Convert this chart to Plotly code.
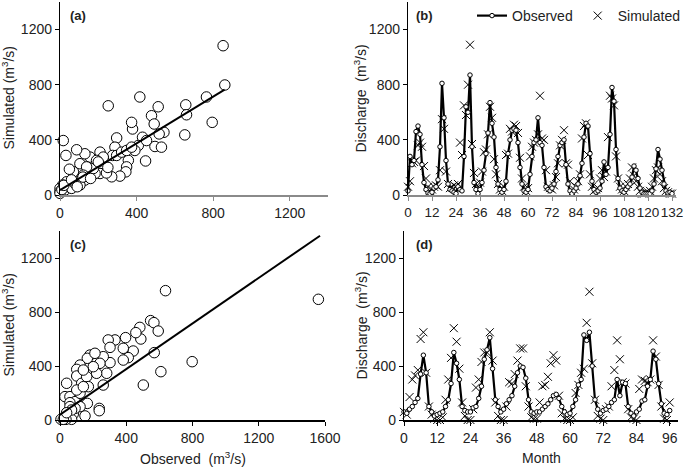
import plotly.graph_objects as go

# ---------------- data ----------------
# (b) calibration period, monthly discharge (m3/s)
months_b = list(range(0, 133))
obs_b = [
    30, 280, 220, 250, 460, 500, 440, 220, 90, 40, 15, 10,
    20, 50, 60, 110, 350, 810, 560, 250, 80, 40, 30, 20,
    10, 60, 40, 30, 280, 640, 600, 870, 350, 90, 40, 10,
    40, 90, 180, 300, 450, 670, 520, 420, 200, 80, 40, 20,
    40, 100, 300, 400, 470, 480, 470, 380, 200, 80, 30, 20,
    40, 150, 280, 380, 400, 560, 380, 360, 200, 60, 40, 30,
    50, 80, 170, 280, 360, 380, 400, 220, 80, 30, 10, 30,
    50, 80, 140, 230, 420, 520, 500, 300, 100, 40, 20, 30,
    50, 100, 240, 150, 200, 440, 780, 680, 330, 120, 50, 30,
    20, 40, 60, 80, 130, 210, 180, 120, 50, 20, 10, 10,
    10, 10, 30, 80, 190, 330, 260, 180, 80, 30, 15, 20, 10,
]
sim_b = [
    60, 100, 230, 240, 250, 360, 380, 350, 210, 120, 60, 30,
    40, 60, 70, 60, 180, 550, 480, 170, 80, 50, 60, 70,
    60, 80, 380, 290, 650, 580, 800, 1090, 370, 160, 80, 60,
    90, 170, 310, 330, 440, 640, 560, 260, 150, 80, 40, 30,
    60, 290, 300, 480, 460, 510, 500, 450, 270, 120, 60, 30,
    50, 280, 350, 380, 400, 440, 720, 410, 400, 180, 60, 50,
    40, 70, 130, 230, 360, 400, 470, 230, 220, 100, 20, 40,
    60, 100, 150, 410, 500, 520, 290, 150, 60, 30, 40, 50,
    120, 180, 130, 170, 420, 720, 700, 650, 280, 120, 60, 40,
    30, 60, 80, 120, 200, 140, 100, 60, 30, 10, 10, 20,
    20, 30, 60, 120, 180, 200, 150, 100, 50, 30, 20, 10, 10,
]

# (d) validation period
months_d = list(range(0, 97))
obs_d = [
    60, 50, 80, 100, 130, 160, 340, 480, 350, 100, 60, 30, 40,
    50, 60, 100, 150, 270, 500, 420, 300, 100, 70, 60, 60,
    90, 100, 160, 250, 450, 520, 610, 380, 150, 100, 60, 80,
    120, 150, 180, 250, 350, 400, 390, 310, 150, 60, 50, 60,
    60, 80, 100, 120, 150, 180, 190, 160, 100, 60, 40, 50,
    100, 150, 260, 300, 630, 590, 650, 400, 150, 80, 50, 70,
    80, 100, 130, 150, 300, 180, 280, 270, 100, 50, 30, 60,
    80, 140, 150, 250, 300, 510, 450, 270, 120, 50, 40, 70,
]
sim_d = [
    60, 40, 170, 300, 330, 370, 600, 650, 350, 100, 40, 10, 0,
    0, 20, 150, 300, 460, 680, 580, 380, 130, 30, 0, 0,
    80, 240, 300, 430, 500, 500, 650, 440, 130, 30, 0, 0,
    100, 280, 270, 340, 440, 530, 530, 250, 100, 20, 10, 10,
    130, 250, 260, 320, 420, 480, 440, 180, 50, 10, 0, 0,
    20, 200, 260, 350, 380, 720, 950, 420, 150, 30, 10, 0,
    80, 100, 250, 370, 590, 450, 280, 270, 80, 20, 10, 0,
    230, 300, 290, 280, 300, 590, 470, 260, 100, 10, 0, 130,
]

# (a) scatter, calibration
obs_a = [852, 861, 765, 657, 661, 652, 795, 513, 417, 252, 478, 492, 543, 518,
         496, 447, 431, 409, 379, 374, 296, 287, 275, 357, 348, 344, 313, 270,
         209, 217, 209, 183, 243, 157, 130, 87, 31, 17, 104, 148, 70, 49, 130,
         96, 35, 14, 0, 0, 26, 43, 61, 78, 104, 174, 296, 322, 391, 452, 530,
         348, 374, 226, 191, 139, 122, 0, 10, 20, 60, 90, 120, 160, 200, 250]
sim_a = [1083, 798, 711, 654, 582, 436, 527, 640, 711, 647, 575, 515, 455, 443,
         352, 247, 419, 359, 479, 527, 414, 347, 287, 251, 204, 168, 137, 132,
         311, 227, 156, 156, 160, 275, 299, 328, 287, 395, 227, 180, 168, 187,
         108, 96, 96, 72, 48, 24, 36, 60, 48, 84, 72, 192, 287, 311, 323, 395,
         347, 323, 347, 275, 251, 204, 144, 12, 40, 70, 110, 60, 130, 120, 240, 200]

# (c) scatter, validation
obs_c = [1560, 637, 798, 609, 503, 569, 547, 567, 593, 482, 488, 458, 442, 412,
         396, 382, 382, 332, 291, 302, 302, 282, 261, 261, 241, 221, 181, 165,
         121, 101, 101, 131, 161, 171, 40, 30, 60, 91, 60, 165, 121, 237, 237,
         151, 80, 70, 36, 6, 20, 121, 91, 60, 201, 211, 141, 70, 40, 101, 141]
sim_c = [894, 958, 432, 358, 259, 499, 736, 721, 659, 686, 600, 647, 511, 462,
         610, 531, 444, 593, 593, 538, 425, 346, 469, 259, 420, 346, 481, 457,
         407, 375, 326, 272, 321, 247, 272, 173, 173, 136, 128, 123, 198, 86,
         69, 30, 44, 5, 5, 5, 5, 99, 86, 99, 395, 494, 370, 74, 54, 222, 247]

# fitted lines (end points)
fit_a_x = [0, 860]
fit_a_y = [35, 765]
fit_c_x = [0, 1570]
fit_c_y = [40, 1365]

y_ticks = [0, 400, 800, 1200]
x_ticks_a = [0, 400, 800, 1200]
x_ticks_c = [0, 400, 800, 1200, 1600]
x_ticks_b = list(range(0, 133, 12))
x_ticks_d = list(range(0, 97, 12))

# ---------------- figure ----------------
FONT = "Liberation Sans, Arial, sans-serif"
W, H = 685, 468

fig = go.Figure()

circ = dict(symbol="circle", size=10.5, color="white", line=dict(color="black", width=1))
fig.add_trace(go.Scatter(x=obs_a, y=sim_a, mode="markers", marker=circ, xaxis="x", yaxis="y",
                         showlegend=False, cliponaxis=False))
fig.add_trace(go.Scatter(x=fit_a_x, y=fit_a_y, mode="lines", line=dict(color="black", width=2),
                         xaxis="x", yaxis="y", showlegend=False))
fig.add_trace(go.Scatter(x=obs_c, y=sim_c, mode="markers", marker=circ, xaxis="x3", yaxis="y3",
                         showlegend=False, cliponaxis=False))
fig.add_trace(go.Scatter(x=fit_c_x, y=fit_c_y, mode="lines", line=dict(color="black", width=2),
                         xaxis="x3", yaxis="y3", showlegend=False))

obs_style = dict(mode="lines+markers", line=dict(color="black", width=2.2),
                 marker=dict(symbol="circle", size=4.5, color="white", line=dict(color="black", width=1)))
sim_style = dict(mode="markers",
                 marker=dict(symbol="x-thin-open", size=8, color="black", line=dict(color="black", width=1)))

fig.add_trace(go.Scatter(x=months_b, y=sim_b, name="Simulated", xaxis="x2", yaxis="y2",
                         cliponaxis=False, legendrank=2, **sim_style))
fig.add_trace(go.Scatter(x=months_b, y=obs_b, name="Observed", xaxis="x2", yaxis="y2",
                         cliponaxis=False, legendrank=1, **obs_style))
fig.add_trace(go.Scatter(x=months_d, y=sim_d, name="Simulated", xaxis="x4", yaxis="y4",
                         cliponaxis=False, showlegend=False, **sim_style))
fig.add_trace(go.Scatter(x=months_d, y=obs_d, name="Observed", xaxis="x4", yaxis="y4",
                         cliponaxis=False, showlegend=False, **obs_style))


def px_x(a, b):
    return [a / W, b / W]


def px_y(top, bottom):
    return [1 - bottom / H, 1 - top / H]


tick_font = dict(family=FONT, size=14, color="#222")
title_font = dict(family=FONT, size=14, color="#222")


def xax(domain, rng, anchor, tickvals, linecolor, fsize=14):
    return dict(domain=domain, range=rng, anchor=anchor, tickvals=tickvals,
                showline=True, linecolor=linecolor, linewidth=1.6, ticks="outside",
                ticklen=4, tickcolor=linecolor, showgrid=False, zeroline=False,
                tickangle=0, automargin=False,
                tickfont=dict(family=FONT, size=fsize, color="#222"))


def yax(domain, anchor):
    return dict(domain=domain, range=[0, 1400], anchor=anchor, tickvals=y_ticks,
                showline=True, linecolor="black", linewidth=1.4, ticks="outside",
                ticklen=4, tickcolor="black", showgrid=False, zeroline=False,
                automargin=False, tickfont=tick_font)


fig.update_layout(
    width=W, height=H, margin=dict(l=0, r=0, t=0, b=0, autoexpand=False),
    plot_bgcolor="white", paper_bgcolor="white",
    font=dict(family=FONT, size=14, color="#222"),
    xaxis=xax(px_x(60, 328), [0, 1400], "y", x_ticks_a, "#8a8a8a"),
    yaxis=yax(px_y(2, 195), "x"),
    xaxis2=xax(px_x(408, 676), [0, 134], "y2", x_ticks_b, "#8a8a8a", 13.5),
    yaxis2=yax(px_y(2, 195), "x2"),
    xaxis3=xax(px_x(60, 325), [0, 1600], "y3", x_ticks_c, "black"),
    yaxis3=yax(px_y(231, 420), "x3"),
    xaxis4=xax(px_x(404, 678), [0, 99], "y4", x_ticks_d, "black"),
    yaxis4=yax(px_y(231, 420), "x4"),
    legend=dict(orientation="h", x=1.0, xanchor="right", y=1.0, yanchor="top",
                bgcolor="rgba(0,0,0,0)", font=dict(family=FONT, size=14, color="#222"),
                itemwidth=30, tracegroupgap=0),
)

labels = [("(a)", "x domain", "y domain", 0.03, 0.93),
          ("(b)", "x2 domain", "y2 domain", 0.022, 0.93),
          ("(c)", "x3 domain", "y3 domain", 0.03, 0.93),
          ("(d)", "x4 domain", "y4 domain", 0.036, 0.93)]
for txt, xr, yr, xx, yy in labels:
    fig.add_annotation(text="<b>%s</b>" % txt, xref=xr, yref=yr, x=xx, y=yy,
                       xanchor="left", yanchor="middle", showarrow=False,
                       font=dict(family=FONT, size=13, color="#222"))

# axis titles
sim_title = "Simulated (m<sup>3</sup>/s)"
dis_title = "Discharge  (m<sup>3</sup>/s)"
ytitles = [(sim_title, 8, "y domain"), (dis_title, 360, "y2 domain"),
           (sim_title, 8, "y3 domain"), (dis_title, 361, "y4 domain")]
for txt, xpx, yr in ytitles:
    fig.add_annotation(text=txt, xref="paper", yref=yr, x=xpx / W, y=0.5,
                       xanchor="center", yanchor="middle", textangle=-90, showarrow=False,
                       font=title_font)
xtitles = [("Observed  (m<sup>3</sup>/s)", "x3 domain"), ("Month", "x4 domain")]
for txt, xr in xtitles:
    fig.add_annotation(text=txt, xref=xr, yref="paper", x=0.5, y=1 - 458 / H,
                       xanchor="center", yanchor="middle", showarrow=False, font=title_font)

fig.write_html("out.html", config={"displayModeBar": False},
               post_script="document.body.style.margin='0px';document.body.style.overflow='hidden';")
